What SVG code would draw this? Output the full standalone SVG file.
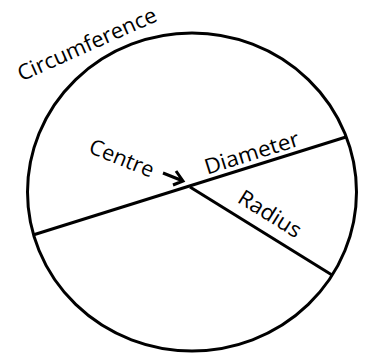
<svg xmlns="http://www.w3.org/2000/svg" width="369" height="354" viewBox="0 0 369 354">
<style>
.ln{stroke:#000;stroke-width:3;fill:none;stroke-linecap:butt}
.t{font-family:"Open Sans","Liberation Sans",sans-serif;font-size:21.5px;fill:#000}
</style>
<rect width="369" height="354" fill="#fff"/>
<g id="circle">
<ellipse class="ln" cx="192" cy="192" rx="164.5" ry="159"/>
<text class="t" transform="translate(90,51) rotate(-24)" text-anchor="middle" textLength="150" lengthAdjust="spacingAndGlyphs">Circumference</text>
</g>
<g id="connectors">
<line id="diameter" class="ln" x1="33" y1="235" x2="346" y2="137"/>
<line id="radius" class="ln" x1="190" y1="187" x2="332" y2="275"/>
<path class="ln" d="M163,173 L183,181 M176,171 L183,181 L173,185" stroke-width="2.5"/>
</g>
<g id="labels">
<text class="t" transform="translate(119,165) rotate(22)" text-anchor="middle" textLength="68" lengthAdjust="spacingAndGlyphs">Centre</text>
<text class="t" transform="translate(254,160) rotate(-17.4)" text-anchor="middle" textLength="98" lengthAdjust="spacingAndGlyphs">Diameter</text>
<text class="t" transform="translate(266,220) rotate(32)" text-anchor="middle" textLength="70" lengthAdjust="spacingAndGlyphs">Radius</text>
</g>
</svg>
